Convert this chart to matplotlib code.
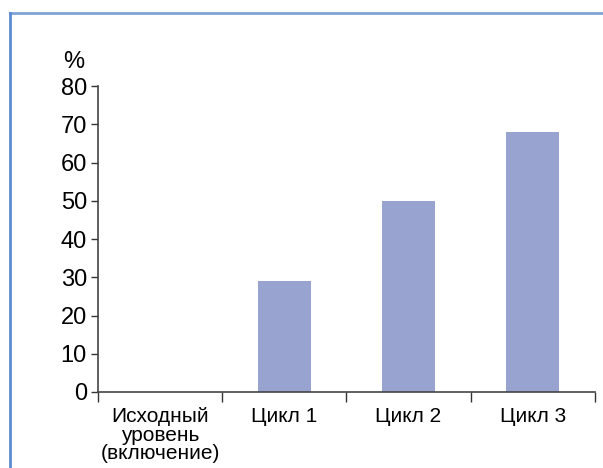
import matplotlib
matplotlib.use('Agg')
from matplotlib import pyplot as plt
from matplotlib.lines import Line2D

plt.rcParams['font.family'] = ['Liberation Sans', 'DejaVu Sans']

# data
categories = ['Исходный\nуровень\n(включение)', 'Цикл 1', 'Цикл 2', 'Цикл 3']
values = [0, 29, 50, 68]
y_ticks = [0, 10, 20, 30, 40, 50, 60, 70, 80]

fig = plt.figure(figsize=(6.03, 4.68), dpi=100)
ax = fig.add_axes([0.1625, 0.1624, 0.824, 0.6538])

x = list(range(len(categories)))
ax.bar(x, values, width=0.43, color='#99a3d0', zorder=2)

ax.set_xlim(-0.5, len(categories) - 0.5)
ax.set_ylim(0, 80)
ax.set_yticks(y_ticks)
ax.tick_params(axis='y', labelsize=17, length=5, width=1, color='#333333', pad=3)

# x ticks sit on the category boundaries, labels in the middle
ax.set_xticks([i - 0.5 for i in range(len(categories) + 1)])
ax.set_xticklabels([])
ax.set_xticks(x, minor=True)
ax.set_xticklabels(categories, minor=True, fontsize=15, linespacing=0.97, va='top')
ax.tick_params(axis='x', which='major', length=7, width=1, color='#333333')
ax.tick_params(axis='x', which='minor', length=0, pad=11)

for s in ['top', 'right']:
    ax.spines[s].set_visible(False)
for s in ['left', 'bottom']:
    ax.spines[s].set_color('#444444')
    ax.spines[s].set_linewidth(1.2)

fig.text(74 / 603, 1 - 62 / 468, '%', fontsize=17, ha='center', va='center')

# frame around the chart
fig.add_artist(Line2D([10 / 603, 1.0], [1 - 13 / 468, 1 - 13 / 468], color='#7fa3d4', lw=2))
fig.add_artist(Line2D([10 / 603, 10 / 603], [0, 1 - 13 / 468], color='#5b8ad0', lw=2))

plt.savefig('out.png')
